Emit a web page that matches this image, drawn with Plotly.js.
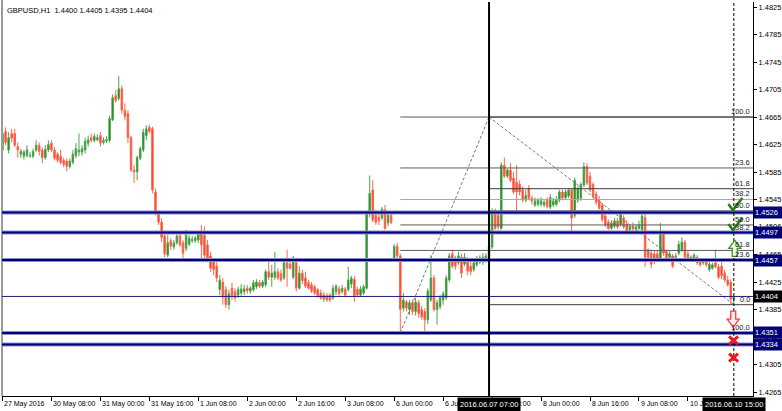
<!DOCTYPE html>
<html>
<head>
<meta charset="utf-8">
<script src="https://cdn.plot.ly/plotly-3.0.1.min.js"></script>
<style>
  html, body { margin: 0; padding: 0; background: #fff; }
  #chart { width: 782px; height: 411px; }
</style>
</head>
<body>
<div id="chart"></div>
<script>
// GBPUSD H1, 27 May 2016 16:00 .. 10 Jun 2016 15:00 (one entry per hourly bar)
const open = [
  1.4617,1.4644,1.4617,1.4641,1.4641,1.4622,1.4611,1.4608,1.4609,1.4608,
  1.4608,1.4617,1.4624,1.4617,1.4606,1.4617,1.4627,1.4617,1.4611,1.4608,
  1.4602,1.4601,1.4593,1.4599,1.4609,1.4614,1.4614,1.4617,1.4627,1.4635,
  1.4631,1.4632,1.4638,1.4628,1.4630,1.4631,1.4661,1.4696,1.4692,1.4706,
  1.4675,1.4670,1.4635,1.4588,1.4585,1.4605,1.4617,1.4638,1.4650,1.4648,
  1.4556,1.4527,1.4512,1.4492,1.4464,1.4485,1.4476,1.4482,1.4492,1.4482,
  1.4474,1.4480,1.4485,1.4485,1.4486,1.4496,1.4493,1.4479,1.4463,1.4454,
  1.4448,1.4414,1.4425,1.4414,1.4392,1.4416,1.4411,1.4406,1.4409,1.4411,
  1.4416,1.4412,1.4414,1.4418,1.4424,1.4419,1.4421,1.4440,1.4432,1.4432,
  1.4440,1.4437,1.4431,1.4453,1.4451,1.4432,1.4453,1.4416,1.4438,1.4431,
  1.4424,1.4421,1.4418,1.4414,1.4409,1.4406,1.4405,1.4406,1.4402,1.4411,
  1.4415,1.4411,1.4415,1.4414,1.4422,1.4429,1.4414,1.4406,1.4409,1.4416,
  1.4524,1.4559,1.4522,1.4519,1.4518,1.4530,1.4511,1.4522,1.4460,1.4477,
  1.4463,1.4387,1.4396,1.4385,1.4395,1.4382,1.4395,1.4385,1.4382,1.4370,
  1.4399,1.4431,1.4385,1.4389,1.4399,1.4402,1.4428,1.4466,1.4457,1.4453,
  1.4461,1.4451,1.4457,1.4448,1.4443,1.4450,1.4454,1.4454,1.4456,1.4461,
  1.4476,1.4527,1.4522,1.4503,1.4595,1.4579,1.4588,1.4576,1.4570,1.4567,
  1.4559,1.4544,1.4561,1.4547,1.4537,1.4538,1.4538,1.4537,1.4544,1.4534,
  1.4537,1.4538,1.4544,1.4556,1.4548,1.4550,1.4559,1.4522,1.4544,1.4547,
  1.4566,1.4593,1.4579,1.4567,1.4553,1.4544,1.4537,1.4521,1.4512,1.4503,
  1.4506,1.4514,1.4509,1.4518,1.4509,1.4501,1.4506,1.4502,1.4503,1.4501,
  1.4519,1.4472,1.4467,1.4466,1.4466,1.4457,1.4495,1.4469,1.4461,1.4463,
  1.4461,1.4467,1.4472,1.4483,1.4466,1.4457,1.4460,1.4461,1.4457,1.4453,
  1.4454,1.4443,1.4445,1.4453,1.4447,1.4448,1.4438,1.4428,1.4425,1.4400
];
const high = [
  1.4653,1.4650,1.4643,1.4648,1.4648,1.4628,1.4619,1.4617,1.4624,1.4614,
  1.4619,1.4631,1.4628,1.4621,1.4624,1.4631,1.4631,1.4621,1.4614,1.4617,
  1.4606,1.4605,1.4605,1.4617,1.4627,1.4641,1.4624,1.4635,1.4638,1.4641,
  1.4641,1.4640,1.4643,1.4635,1.4637,1.4667,1.4698,1.4704,1.4725,1.4711,
  1.4685,1.4675,1.4638,1.4595,1.4609,1.4622,1.4648,1.4653,1.4654,1.4651,
  1.4561,1.4530,1.4518,1.4498,1.4493,1.4489,1.4486,1.4498,1.4496,1.4486,
  1.4501,1.4493,1.4492,1.4492,1.4498,1.4508,1.4506,1.4486,1.4469,1.4460,
  1.4454,1.4435,1.4431,1.4419,1.4414,1.4424,1.4416,1.4418,1.4422,1.4421,
  1.4421,1.4419,1.4428,1.4429,1.4428,1.4428,1.4443,1.4454,1.4450,1.4469,
  1.4445,1.4443,1.4457,1.4472,1.4457,1.4463,1.4460,1.4448,1.4443,1.4440,
  1.4428,1.4425,1.4421,1.4416,1.4414,1.4411,1.4409,1.4409,1.4421,1.4422,
  1.4419,1.4421,1.4418,1.4447,1.4434,1.4434,1.4418,1.4419,1.4421,1.4527,
  1.4580,1.4573,1.4530,1.4527,1.4534,1.4537,1.4527,1.4527,1.4480,1.4482,
  1.4466,1.4409,1.4399,1.4399,1.4399,1.4402,1.4399,1.4390,1.4387,1.4416,
  1.4464,1.4435,1.4399,1.4406,1.4412,1.4435,1.4467,1.4472,1.4463,1.4469,
  1.4466,1.4467,1.4461,1.4454,1.4457,1.4463,1.4464,1.4467,1.4467,1.4482,
  1.4532,1.4532,1.4527,1.4599,1.4606,1.4590,1.4598,1.4585,1.4595,1.4573,
  1.4564,1.4559,1.4566,1.4551,1.4548,1.4547,1.4548,1.4545,1.4548,1.4553,
  1.4547,1.4550,1.4559,1.4559,1.4559,1.4561,1.4561,1.4577,1.4564,1.4570,
  1.4599,1.4598,1.4585,1.4570,1.4557,1.4550,1.4540,1.4524,1.4516,1.4515,
  1.4518,1.4518,1.4528,1.4522,1.4515,1.4509,1.4512,1.4509,1.4514,1.4525,
  1.4524,1.4474,1.4472,1.4470,1.4470,1.4511,1.4499,1.4472,1.4470,1.4466,
  1.4467,1.4485,1.4490,1.4486,1.4470,1.4464,1.4467,1.4464,1.4460,1.4460,
  1.4458,1.4456,1.4453,1.4472,1.4451,1.4454,1.4443,1.4434,1.4429,1.4405
];
const low = [
  1.4609,1.4624,1.4612,1.4628,1.4621,1.4606,1.4605,1.4603,1.4606,1.4606,
  1.4605,1.4614,1.4609,1.4598,1.4603,1.4614,1.4614,1.4602,1.4599,1.4596,
  1.4592,1.4586,1.4590,1.4596,1.4605,1.4608,1.4609,1.4612,1.4622,1.4628,
  1.4628,1.4630,1.4622,1.4625,1.4627,1.4628,1.4659,1.4686,1.4689,1.4670,
  1.4660,1.4627,1.4585,1.4569,1.4573,1.4602,1.4614,1.4631,1.4641,1.4554,
  1.4522,1.4508,1.4483,1.4461,1.4461,1.4472,1.4472,1.4479,1.4476,1.4457,
  1.4470,1.4477,1.4482,1.4482,1.4482,1.4454,1.4460,1.4454,1.4440,1.4435,
  1.4425,1.4406,1.4392,1.4387,1.4385,1.4399,1.4396,1.4402,1.4405,1.4406,
  1.4408,1.4408,1.4411,1.4415,1.4416,1.4416,1.4418,1.4428,1.4418,1.4428,
  1.4428,1.4425,1.4428,1.4418,1.4443,1.4429,1.4411,1.4414,1.4422,1.4416,
  1.4414,1.4409,1.4406,1.4402,1.4399,1.4396,1.4396,1.4396,1.4399,1.4406,
  1.4405,1.4408,1.4403,1.4411,1.4416,1.4396,1.4403,1.4403,1.4406,1.4414,
  1.4519,1.4512,1.4508,1.4508,1.4515,1.4501,1.4506,1.4509,1.4457,1.4460,
  1.4351,1.4382,1.4382,1.4377,1.4377,1.4376,1.4373,1.4370,1.4353,1.4364,
  1.4396,1.4382,1.4363,1.4385,1.4392,1.4399,1.4425,1.4445,1.4443,1.4450,
  1.4431,1.4448,1.4435,1.4435,1.4440,1.4447,1.4451,1.4450,1.4453,1.4458,
  1.4473,1.4501,1.4501,1.4501,1.4576,1.4576,1.4570,1.4553,1.4527,1.4551,
  1.4541,1.4541,1.4544,1.4538,1.4534,1.4535,1.4535,1.4534,1.4532,1.4531,
  1.4534,1.4535,1.4541,1.4544,1.4545,1.4547,1.4498,1.4518,1.4540,1.4543,
  1.4563,1.4566,1.4556,1.4545,1.4537,1.4531,1.4512,1.4505,1.4501,1.4501,
  1.4503,1.4502,1.4506,1.4502,1.4495,1.4498,1.4499,1.4499,1.4501,1.4498,
  1.4447,1.4457,1.4445,1.4451,1.4454,1.4454,1.4463,1.4457,1.4458,1.4445,
  1.4458,1.4464,1.4469,1.4458,1.4454,1.4454,1.4457,1.4450,1.4447,1.4450,
  1.4447,1.4440,1.4443,1.4445,1.4429,1.4429,1.4425,1.4418,1.4392,1.4395
];
const close = [
  1.4641,1.4628,1.4635,1.4634,1.4624,1.4617,1.4615,1.4614,1.4617,1.4609,
  1.4615,1.4624,1.4615,1.4606,1.4618,1.4625,1.4617,1.4605,1.4602,1.4599,
  1.4596,1.4593,1.4601,1.4611,1.4619,1.4617,1.4619,1.4630,1.4632,1.4631,
  1.4637,1.4635,1.4627,1.4631,1.4632,1.4663,1.4693,1.4689,1.4706,1.4675,
  1.4666,1.4635,1.4588,1.4585,1.4606,1.4619,1.4643,1.4648,1.4644,1.4559,
  1.4527,1.4512,1.4490,1.4466,1.4482,1.4477,1.4482,1.4492,1.4479,1.4467,
  1.4493,1.4489,1.4487,1.4489,1.4495,1.4479,1.4464,1.4460,1.4445,1.4443,
  1.4431,1.4428,1.4403,1.4392,1.4408,1.4405,1.4402,1.4414,1.4415,1.4415,
  1.4412,1.4416,1.4424,1.4425,1.4419,1.4425,1.4440,1.4432,1.4438,1.4440,
  1.4431,1.4428,1.4453,1.4445,1.4445,1.4460,1.4416,1.4438,1.4427,1.4419,
  1.4416,1.4412,1.4409,1.4405,1.4402,1.4400,1.4399,1.4399,1.4416,1.4419,
  1.4408,1.4416,1.4406,1.4428,1.4431,1.4405,1.4406,1.4415,1.4418,1.4524,
  1.4554,1.4515,1.4512,1.4514,1.4531,1.4503,1.4522,1.4512,1.4477,1.4463,
  1.4385,1.4399,1.4387,1.4395,1.4382,1.4396,1.4379,1.4374,1.4370,1.4412,
  1.4431,1.4385,1.4395,1.4402,1.4408,1.4431,1.4463,1.4448,1.4448,1.4463,
  1.4438,1.4461,1.4441,1.4440,1.4453,1.4458,1.4460,1.4461,1.4463,1.4477,
  1.4527,1.4503,1.4505,1.4595,1.4579,1.4588,1.4573,1.4556,1.4556,1.4556,
  1.4544,1.4551,1.4547,1.4543,1.4543,1.4544,1.4543,1.4541,1.4535,1.4548,
  1.4543,1.4545,1.4556,1.4547,1.4556,1.4559,1.4518,1.4573,1.4561,1.4567,
  1.4593,1.4569,1.4559,1.4550,1.4541,1.4532,1.4516,1.4508,1.4503,1.4511,
  1.4514,1.4505,1.4524,1.4505,1.4498,1.4506,1.4502,1.4505,1.4508,1.4521,
  1.4461,1.4461,1.4451,1.4456,1.4457,1.4495,1.4467,1.4460,1.4466,1.4448,
  1.4463,1.4480,1.4483,1.4461,1.4457,1.4461,1.4464,1.4453,1.4450,1.4456,
  1.4450,1.4451,1.4450,1.4447,1.4432,1.4434,1.4428,1.4421,1.4400,1.4404
];

// time axis: bar numbers where a label is printed, and the labels
const timeTickBars = [0, 16, 32, 48, 64, 80, 96, 112, 128, 144, 160, 176, 192, 208, 224];
const timeTickLabels = ['27 May 2016', '30 May 08:00', '31 May 00:00', '31 May 16:00', '1 Jun 08:00',
  '2 Jun 00:00', '2 Jun 16:00', '3 Jun 08:00', '6 Jun 00:00', '6 Jun 16:00', '7 Jun 08:00',
  '8 Jun 00:00', '8 Jun 16:00', '9 Jun 08:00', '10 Jun 00:00'];

// price scale ticks
const priceTicks = [1.4825, 1.4785, 1.4745, 1.4705, 1.4665, 1.4625, 1.4585, 1.4545, 1.4506,
  1.4465, 1.4425, 1.4385, 1.4345, 1.4305, 1.4265];

// vertical time markers
const markerBars = [159, 239];
const markerLabels = ['2016.06.07 07:00', '2016.06.10 15:00'];

// horizontal support / resistance lines
const levelPrices = [1.4526, 1.4497, 1.4457, 1.4351, 1.4334];
const bidPrice = 1.4404;

// Fibonacci retracements: [bar, price] of first and second anchor
const fibUpAnchors = [[130, 1.4351], [159, 1.4665]];
const fibDownAnchors = [[159, 1.4665], [239, 1.4392]];
const fibUpLevels = [0, 23.6, 38.2, 50, 61.8, 100];
const fibDownLevels = [0, 23.6, 38.2, 50, 61.8, 100, 161.8];

// signal arrows next to the last bar
const signalBars = [239.5, 239.5, 239.3, 238.8, 238.9, 238.9];
const signalPrices = [1.4537, 1.4508, 1.4474, 1.4371, 1.4340, 1.4315];
const signalKinds = ['check', 'check', 'up', 'down', 'cross', 'cross'];

const bars = open.map((_, i) => i);
const BULL = '#168016', BULL_EDGE = '#4ea44e';
const BEAR = '#ff3a10', BEAR_EDGE = '#ff6650';
const NAVY = '#00007c';
const FONT = 'Liberation Sans, Arial, sans-serif';
const FS = 7;
const XMAX = 245.26;

const shapes = [];
const annotations = [];

// left frame edge
shapes.push({type: 'line', xref: 'paper', yref: 'paper', x0: 0, x1: 0, y0: 0, y1: 1.01,
  line: {color: '#9a9a9a', width: 2}, layer: 'above'});

function fibPrice(anchors, lv) {
  const p1 = anchors[0][1], p2 = anchors[1][1];
  return p2 + (p1 - p2) * lv / 100;
}

// Fibonacci level rays with their captions at the right edge
function addFib(anchors, levels, colorFor, labelSkip) {
  const start = anchors[0][0];
  levels.forEach(lv => {
    const p = fibPrice(anchors, lv);
    shapes.push({type: 'line', xref: 'x', yref: 'y', x0: start, x1: XMAX + 2, y0: p, y1: p,
      line: {color: colorFor(lv), width: 1}, layer: 'above'});
    if (!labelSkip.includes(lv)) {
      annotations.push({xref: 'paper', yref: 'y', x: 1, y: p, xanchor: 'right', yanchor: 'bottom',
        xshift: -1, yshift: lv > 150 ? -4 : -1, text: lv.toFixed(1), showarrow: false,
        font: {family: FONT, size: FS + 0.5, color: '#222'}});
    }
  });
  shapes.push({type: 'line', xref: 'x', yref: 'y', x0: anchors[0][0], y0: anchors[0][1],
    x1: anchors[1][0], y1: anchors[1][1], line: {color: '#777', width: 1, dash: '3px,2px'}, layer: 'above'});
}
addFib(fibUpAnchors, fibUpLevels, lv => (lv === 38.2 ? '#a8a8a8' : '#5a5a5a'), [0]);
addFib(fibDownAnchors, fibDownLevels, () => '#3a3a3a', []);

// bid line
shapes.push({type: 'line', xref: 'paper', yref: 'y', x0: 0, x1: 1, y0: bidPrice, y1: bidPrice,
  line: {color: '#1c1c78', width: 1}, layer: 'above'});

// thick horizontal levels
levelPrices.forEach(p => {
  shapes.push({type: 'line', xref: 'paper', yref: 'y', x0: 0, x1: 1, y0: p, y1: p,
    line: {color: '#8c8cc4', width: 4}, layer: 'above'});
  shapes.push({type: 'line', xref: 'paper', yref: 'y', x0: 0, x1: 1, y0: p, y1: p,
    line: {color: NAVY, width: 2}, layer: 'above'});
});

// vertical markers
shapes.push({type: 'line', xref: 'x', yref: 'paper', x0: markerBars[0], x1: markerBars[0], y0: 0, y1: 1,
  line: {color: '#000', width: 2}, layer: 'above'});
shapes.push({type: 'line', xref: 'x', yref: 'paper', x0: markerBars[1], x1: markerBars[1], y0: 0, y1: 1,
  line: {color: '#000', width: 1, dash: '3px,2px'}, layer: 'above'});

// signal glyphs, drawn in pixel units around their anchor
const glyphs = {
  check: {path: 'M-7,1 L-2.5,-5 L7,7', line: {color: '#267d1c', width: 2.6}, fill: null},
  up: {path: 'M-2.5,-8 L2.5,-8 L2.5,0 L6,0 L0,8 L-6,0 L-2.5,0 Z', line: {color: '#3f8f22', width: 1.3}, fill: '#f2f9ee'},
  down: {path: 'M-2.5,8 L2.5,8 L2.5,0 L6,0 L0,-8 L-6,0 L-2.5,0 Z', line: {color: '#ff3b3b', width: 1.3}, fill: '#fff0f0'},
  cross: {path: 'M-4.5,-4 L4.5,4 M-4.5,4 L4.5,-4', line: {color: '#ee1a1a', width: 3}, fill: null}
};
signalBars.forEach((b, i) => {
  const g = glyphs[signalKinds[i]];
  const s = {type: 'path', xref: 'x', yref: 'y', xsizemode: 'pixel', ysizemode: 'pixel',
    xanchor: b, yanchor: signalPrices[i], path: g.path, line: g.line, layer: 'above'};
  if (g.fill) s.fillcolor = g.fill;
  shapes.push(s);
});

// time axis labels
timeTickBars.forEach((b, i) => {
  annotations.push({xref: 'x', yref: 'paper', x: b, y: 0, xanchor: 'left', yanchor: 'top',
    xshift: 0, yshift: -2, text: timeTickLabels[i], showarrow: false,
    font: {family: FONT, size: FS, color: '#000'}});
});
markerBars.forEach((b, i) => {
  annotations.push({xref: 'x', yref: 'paper', x: b, y: 0, xanchor: 'center', yanchor: 'top',
    yshift: -1, text: markerLabels[i], showarrow: false, bgcolor: '#000', borderpad: 2,
    font: {family: FONT, size: FS + 0.5, color: '#fff'}});
});

// price boxes on the right scale
levelPrices.forEach(p => {
  annotations.push({xref: 'paper', yref: 'y', x: 1, y: p, xanchor: 'left', yanchor: 'middle',
    xshift: 0, text: p.toFixed(4), showarrow: false, bgcolor: NAVY, borderpad: 1, width: 27, align: 'left',
    font: {family: FONT, size: FS + 0.5, color: '#fff'}});
});
annotations.push({xref: 'paper', yref: 'y', x: 1, y: bidPrice, xanchor: 'left', yanchor: 'middle',
  xshift: 0, text: bidPrice.toFixed(4), showarrow: false, bgcolor: '#000', borderpad: 1, width: 27, align: 'left',
  font: {family: FONT, size: FS + 0.5, color: '#fff'}});

// symbol header
annotations.push({xref: 'paper', yref: 'paper', x: 0, y: 1, xanchor: 'left', yanchor: 'top',
  xshift: 3, yshift: -2, text: 'GBPUSD,H1&nbsp; 1.4400 1.4405 1.4395 1.4404', showarrow: false,
  font: {family: FONT, size: FS + 0.5, color: '#000'}});

const trace = {
  type: 'candlestick',
  x: bars, open: open, high: high, low: low, close: close,
  increasing: {line: {color: BULL_EDGE, width: 1}, fillcolor: BULL},
  decreasing: {line: {color: BEAR_EDGE, width: 1}, fillcolor: BEAR},
  whiskerwidth: 0,
  hoverinfo: 'skip'
};

const layout = {
  width: 782, height: 411,
  margin: {l: 2, r: 29, t: 2, b: 15, pad: 0},
  paper_bgcolor: '#fff', plot_bgcolor: '#fff',
  showlegend: false,
  boxgap: 0.3,
  xaxis: {range: [-0.16, XMAX], showgrid: false, zeroline: false, showline: true, linecolor: '#000',
    linewidth: 1, ticks: 'outside', ticklen: 4, tickcolor: '#000', tickvals: timeTickBars,
    showticklabels: false, rangeslider: {visible: false}, fixedrange: true, automargin: false},
  yaxis: {range: [1.42592, 1.48323], side: 'right', showgrid: false, zeroline: false, showline: true,
    linecolor: '#000', linewidth: 1, ticks: 'outside', ticklen: 3, tickcolor: '#000',
    tickvals: priceTicks, ticktext: priceTicks.map(v => v.toFixed(4)),
    tickfont: {family: FONT, size: FS + 0.5, color: '#000'}, fixedrange: true, automargin: false},
  shapes: shapes,
  annotations: annotations
};

Plotly.newPlot('chart', [trace], layout, {displayModeBar: false, staticPlot: true});
</script>
</body>
</html>
